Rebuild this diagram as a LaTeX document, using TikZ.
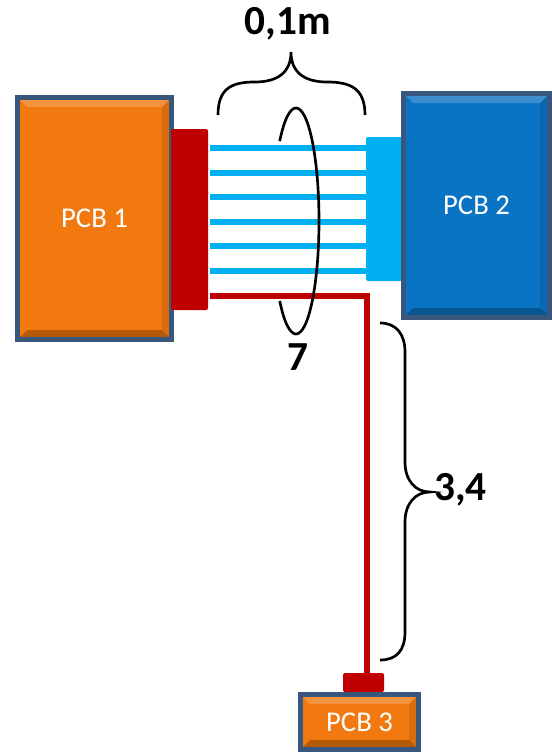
\documentclass[tikz,border=0pt]{standalone}
\usepackage{fontspec}
\setmainfont{Carlito}
\usetikzlibrary{calc}
\definecolor{pcborange}{HTML}{F2790F}
\definecolor{pcbblue}{HTML}{0A74C4}
\definecolor{pcbedge}{HTML}{39577C}
\definecolor{wirered}{HTML}{C00000}
\definecolor{wireblue}{HTML}{00B0F0}
\tikzset{
  pcb/.style={rectangle,draw=pcbedge,line width=4pt,fill=#1,text=white,inner sep=0pt,
    font=\fontsize{21.5}{25}\selectfont,
    path picture={
      \path (path picture bounding box.north west) coordinate (bnw)
            (path picture bounding box.south east) coordinate (bse);
      \fill[white,opacity=.2] (bnw) -- (bnw -| bse) -- ++(-7pt,-7pt) -- ([shift={(7pt,-7pt)}]bnw) -- cycle;
      \fill[black,opacity=.25] (bse) -- (bse -| bnw) -- ++(7pt,7pt) -- ([shift={(-7pt,7pt)}]bse) -- cycle;
      \fill[black,opacity=.1] (bse) -- (bnw -| bse) -- ++(-7pt,-7pt) -- ([shift={(-7pt,7pt)}]bse) -- cycle;
    }},
  plug/.style={rectangle,fill=#1,rounded corners=1.5pt,inner sep=0pt},
  bluewire/.style={wireblue,line width=4.5pt},
  redwire/.style={wirered,line width=4.5pt},
  brc/.style={black,line width=2pt},
  dimlbl/.style={font=\bfseries\fontsize{31}{37}\selectfont,inner sep=0pt}
}
\begin{document}
\begin{tikzpicture}[x=0.75pt,y=-0.75pt]
  \useasboundingbox (0,0) rectangle (552,753);

  \node[pcb=pcborange, minimum width=115.25pt, minimum height=181.25pt] (pcb1) at (94.5,218.5) {PCB 1};
  \node[plug=wirered, minimum width=27.75pt, minimum height=135.75pt] (conn1) at (189.5,219.5) {};
  \node[plug=wireblue, minimum width=27pt, minimum height=108pt] (conn2) at (384,209) {};
  \node[pcb=pcbblue, minimum width=109.25pt, minimum height=167.75pt] (pcb2) at (476.5,205.5) {PCB 2};
  \node[plug=wirered, minimum width=30.75pt, minimum height=14.25pt] (conn3) at (363.5,682.5) {};
  \node[pcb=pcborange, minimum width=88.25pt, minimum height=41pt] (pcb3) at (359.5,722) {PCB 3};

  % bundle of 6 wires
  \foreach \i in {0,...,5} {
    \pgfmathsetmacro\wy{148+24.6*\i}
    \draw[bluewire] ([xshift=1.5pt]conn1.east |- 0,\wy) -- (conn2.west |- 0,\wy);
  }
  \coordinate (bend) at (367,296);
  \draw[redwire] ([xshift=1.5pt]conn1.east |- bend) -- (bend) -- (bend |- conn3.north);

  % loop round the bundle
  \coordinate (loop) at (296,221);
  \draw[brc] ([shift={(135:23 and 113)}]loop) arc[start angle=135,end angle=-135,x radius=23,y radius=113];
  \node[dimlbl] (nwires) at (298,357) {7};

  % braces
  \draw[brc] (218,115) .. controls (218,88) and (232,82) .. (255,82)
    .. controls (278,82) and (291,72) .. (291,52)
    .. controls (291,72) and (304,82) .. (327,82)
    .. controls (350,82) and (365,88) .. (365,115);
  \node[dimlbl] (len1) at (288,24) {0,1m};
  \draw[brc] (380,323) .. controls (397,323) and (405,335) .. (405,352) -- (405,462)
    .. controls (405,480) and (415,492) .. (430,492)
    .. controls (415,492) and (405,504) .. (405,522) -- (405,632)
    .. controls (405,650) and (397,660) .. (380,660);
  \node[dimlbl, anchor=west] (len2) at (434,490) {3,4};
\end{tikzpicture}
\end{document}
